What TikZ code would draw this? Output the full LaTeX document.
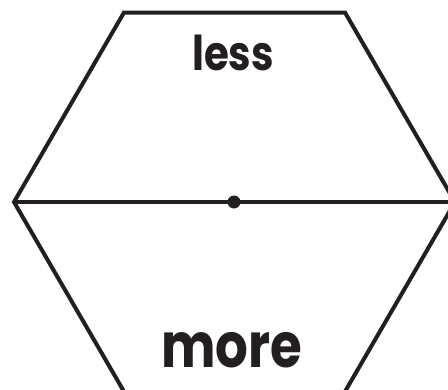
\documentclass[tikz,border=0pt]{standalone}
\usepackage{fontspec}
\setmainfont{Poppins}
\definecolor{ink}{HTML}{231F20}
\begin{document}
\begin{tikzpicture}[x=1pt,y=-1pt,
  edge/.style={draw=ink,line width=4pt,line join=miter},
  lbl/.style={text=ink,inner sep=0pt,anchor=base}]
\useasboundingbox (0,0) rectangle (448,389);
\clip (0,0) rectangle (448,389);
\coordinate (tl) at (124,12.5);
\coordinate (tr) at (345,12.5);
\coordinate (l) at (14,202);
\coordinate (r) at (455,202);
\coordinate (bl) at (126,395);
\coordinate (br) at (343,395);
\coordinate (rr) at (448,202);
\draw[edge] (bl) -- (l) -- (tl) -- (tr) -- (r) -- (br);
\draw[edge] (l) -- (rr);
\node[circle,fill=ink,minimum size=13pt,inner sep=0pt] (dot) at (234,202) {};
\node[lbl] (less) at (233,70) {\scalebox{0.84}[1]{\bfseries\fontsize{48}{48}\selectfont less}};
\node[lbl] (more) at (232,367) {\scalebox{0.83}[1]{\bfseries\fontsize{62}{62}\selectfont more}};
\end{tikzpicture}
\end{document}
